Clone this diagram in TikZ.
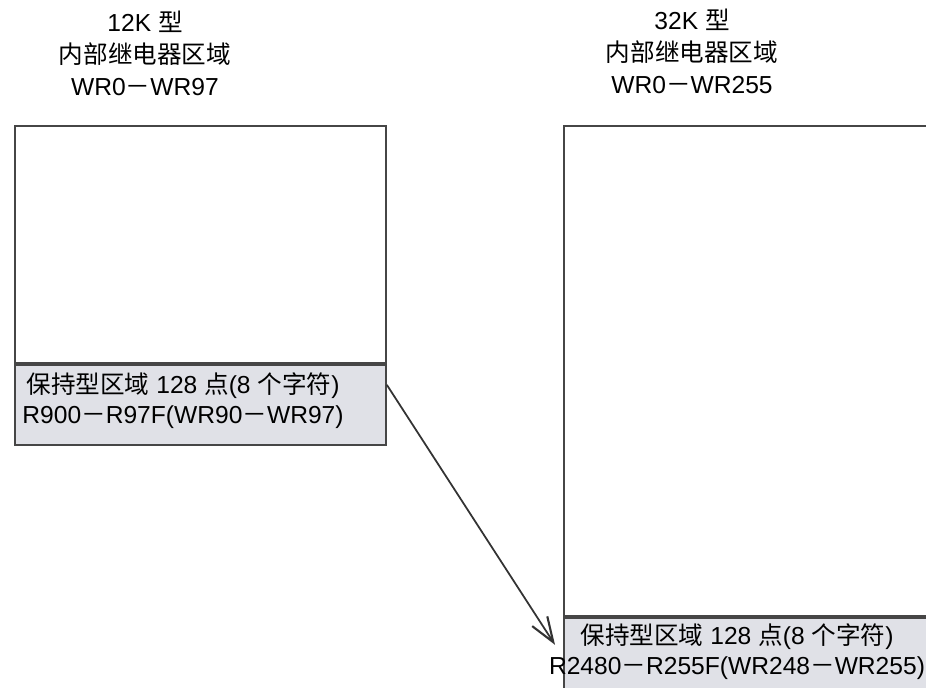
\documentclass[tikz,border=0pt]{standalone}
\usepackage{fontspec}
\setmainfont{Liberation Sans}
\newfontfamily\cjk{Noto Sans CJK SC}
\usetikzlibrary{arrows.meta, positioning}
\definecolor{BandGray}{RGB}{224,225,231}
\definecolor{EdgeGray}{RGB}{70,70,70}

\begin{document}
\begin{tikzpicture}[
  x=0.02cm, y=-0.02cm,
  font=\fontsize{14}{17}\selectfont,
  membox/.style={draw=EdgeGray, line width=1.1pt, fill=white, inner sep=0pt, anchor=north west},
  band/.style={draw=EdgeGray, line width=1.1pt, fill=BandGray, inner sep=0pt, anchor=north},
  title/.style={align=center, font=\fontsize{14}{18.2}\selectfont},
  bandtxt/.style={align=center, inner sep=0pt},
  arr/.style={-{Straight Barb[length=5mm, width=3.6mm, line width=1.2pt]}, line width=1pt, draw=black!80}
]
  \clip (0,0) rectangle (926,688);

  % 12K
  \node[title] (title12) at (145,53) {12K {\cjk 型}\\{\cjk 内部继电器区域}\\WR0{\cjk －}WR97};
  \node[membox, minimum width=7.42cm, minimum height=4.74cm] (area12) at (14,125) {};
  \node[band, minimum width=7.42cm, minimum height=1.6cm] (hold12) at (area12.south) {};
  \node[bandtxt] (hold12txt) at (183,401) {{\cjk 保持型区域} 128 {\cjk 点}(8 {\cjk 个字符})\\R900{\cjk －}R97F(WR90{\cjk －}WR97)};

  % 32K
  \node[title] (title32) at (692,51) {32K {\cjk 型}\\{\cjk 内部继电器区域}\\WR0{\cjk －}WR255};
  \node[membox, minimum width=7.54cm, minimum height=9.8cm] (area32) at (563,125) {};
  \node[band, minimum width=7.54cm, minimum height=1.7cm] (hold32) at (area32.south) {};
  \node[bandtxt] (hold32txt) at (737,652) {{\cjk 保持型区域} 128 {\cjk 点}(8 {\cjk 个字符})\\R2480{\cjk －}R255F(WR248{\cjk －}WR255)};

  \draw[arr] ([yshift=-0.42cm]hold12.north east) -- ([xshift=-0.16cm, yshift=-0.56cm]hold32.north west);
\end{tikzpicture}
\end{document}
